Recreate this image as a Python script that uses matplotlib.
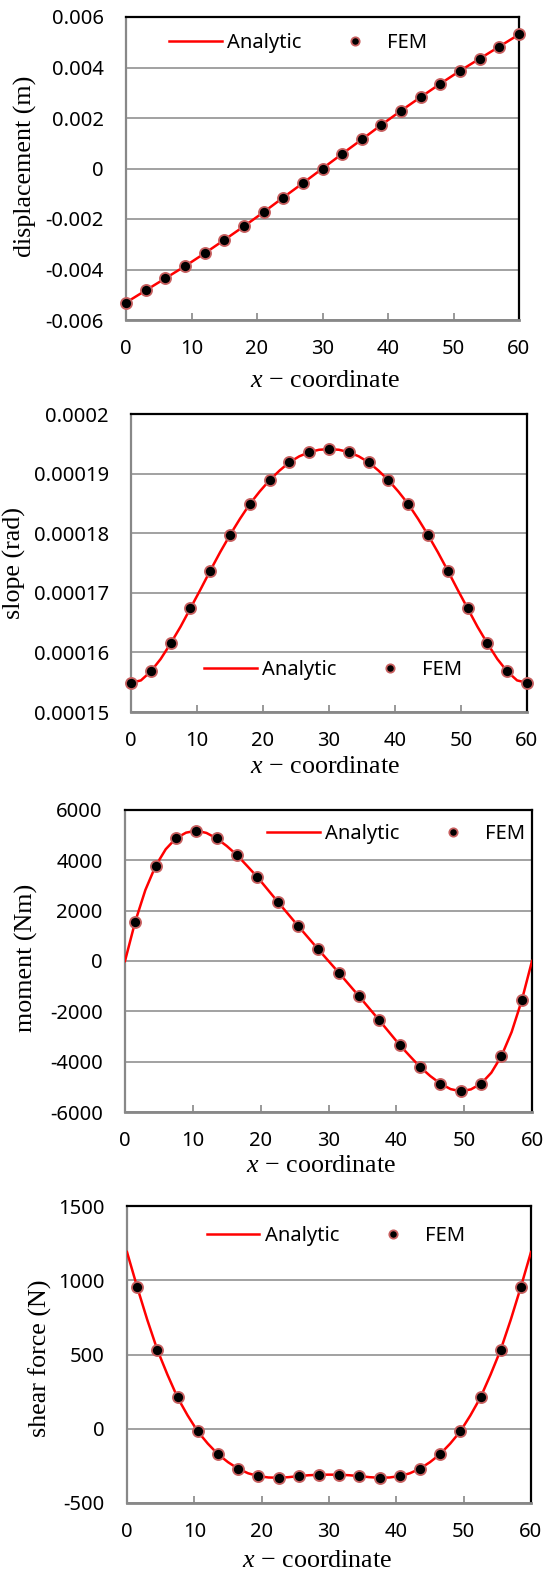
import numpy as np
import matplotlib
matplotlib.use("Agg")
import matplotlib.pyplot as plt

plt.rcParams['mathtext.fontset'] = 'custom'
plt.rcParams['mathtext.it'] = 'Liberation Serif:italic'
plt.rcParams['mathtext.rm'] = 'Liberation Serif'

# --- data ---
x_node = np.arange(0, 61, 3)          # FEM nodes (displacement, slope)
x_mid = np.arange(1.5, 60, 3)         # element midpoints (moment, shear)
x_fine = np.arange(0, 60.1, 1.5)      # analytic curve samples

disp_fem = [-0.00531, -0.00483, -0.00435, -0.00387, -0.00336, -0.00283, -0.00229,
            -0.00173, -0.00115, -0.00058, 0.0, 0.00058, 0.00115, 0.00173, 0.00229,
            0.00283, 0.00336, 0.00387, 0.00435, 0.00483, 0.00531]
disp_line = disp_fem

slope_fem = [1.549e-4, 1.568e-4, 1.615e-4, 1.674e-4, 1.737e-4, 1.797e-4, 1.849e-4,
             1.889e-4, 1.919e-4, 1.936e-4, 1.941e-4, 1.936e-4, 1.919e-4, 1.889e-4,
             1.849e-4, 1.797e-4, 1.737e-4, 1.674e-4, 1.615e-4, 1.568e-4, 1.549e-4]
slope_line = [1.549e-4, 1.553e-4, 1.568e-4, 1.589e-4, 1.615e-4, 1.643e-4, 1.674e-4,
              1.705e-4, 1.737e-4, 1.768e-4, 1.797e-4, 1.824e-4, 1.849e-4, 1.870e-4,
              1.889e-4, 1.905e-4, 1.919e-4, 1.929e-4, 1.936e-4, 1.940e-4, 1.941e-4,
              1.940e-4, 1.936e-4, 1.929e-4, 1.919e-4, 1.905e-4, 1.889e-4, 1.870e-4,
              1.849e-4, 1.824e-4, 1.797e-4, 1.768e-4, 1.737e-4, 1.705e-4, 1.674e-4,
              1.643e-4, 1.615e-4, 1.589e-4, 1.568e-4, 1.553e-4, 1.549e-4]

moment_fem = [1558, 3772, 4873, 5178, 4873, 4210, 3340, 2360, 1400, 460,
              -460, -1400, -2360, -3340, -4210, -4873, -5178, -4873, -3772, -1558]
moment_line = [0, 1558, 2820, 3772, 4440, 4873, 5100, 5178, 5090, 4873, 4570,
               4210, 3780, 3340, 2850, 2360, 1880, 1400, 930, 460, 0,
               -460, -930, -1400, -1880, -2360, -2850, -3340, -3780, -4210, -4570,
               -4873, -5090, -5178, -5100, -4873, -4440, -3772, -2820, -1558, 0]

shear_fem = [956, 532, 211, -18, -171, -269, -319, -330, -319, -310,
             -310, -319, -330, -319, -269, -171, -18, 211, 532, 956]
shear_line = [1190, 956, 735, 532, 365, 211, 90, -18, -100, -171, -225,
              -269, -300, -319, -328, -330, -326, -319, -313, -310, -309,
              -310, -313, -319, -326, -330, -328, -319, -300, -269, -225,
              -171, -100, -18, 90, 211, 365, 532, 735, 956, 1190]

x_ticks = [0, 10, 20, 30, 40, 50, 60]
disp_ticks = [-0.006, -0.004, -0.002, 0, 0.002, 0.004, 0.006]
disp_labels = ['-0.006', '-0.004', '-0.002', '0', '0.002', '0.004', '0.006']
slope_ticks = [0.00015, 0.00016, 0.00017, 0.00018, 0.00019, 0.0002]
slope_labels = ['0.00015', '0.00016', '0.00017', '0.00018', '0.00019', '0.0002']
moment_ticks = [-6000, -4000, -2000, 0, 2000, 4000, 6000]
moment_labels = ['-6000', '-4000', '-2000', '0', '2000', '4000', '6000']
shear_ticks = [-500, 0, 500, 1000, 1500]
shear_labels = ['-500', '0', '500', '1000', '1500']

W, H = 551, 1574
fig = plt.figure(figsize=(W / 100, H / 100), dpi=100)


def fx(px):
    return px / W


def fy(py):
    return 1 - py / H


GRAY = '#888888'
TICK_FONT = 'Noto Sans'
LABEL_FONT = 'Liberation Serif'
FS = 14.5

panels = [
    # (box l, t, r, b), line x, line y, fem x, fem y, ticks, labels, ylabel, ylabel pos, xlabel pos, legend pos
    ((126, 17, 519, 320), x_node, disp_line, x_node, disp_fem, disp_ticks, disp_labels,
     'displacement (m)', (25.5, 166), (325, 387), (169, 43)),
    ((131, 414, 527, 712), x_fine, slope_line, x_node, slope_fem, slope_ticks, slope_labels,
     'slope (rad)', (14.5, 563), (325, 773), (204, 670)),
    ((125, 810, 532, 1112), x_fine, moment_line, x_mid, moment_fem, moment_ticks, moment_labels,
     'moment (Nm)', (26.5, 958), (321.5, 1172), (267, 834)),
    ((127, 1206, 531, 1503), x_fine, shear_line, x_mid, shear_fem, shear_ticks, shear_labels,
     'shear force (N)', (40.5, 1358), (317, 1567), (206.5, 1236)),
]

for box, lx, ly, mx, my, yt, yl, ylab, ylpos, xlpos, legpos in panels:
    l, t, r, b = box
    ax = fig.add_axes([fx(l), fy(b), (r - l) / W, (b - t) / H])
    ax.plot(lx, ly, color='#ff0000', lw=1.8, label='Analytic', zorder=3)
    ax.plot(mx, my, 'o', ms=8, mfc='black', mec='#c86060', mew=1.3,
            label='FEM', zorder=4, clip_on=False)
    ax.set_xlim(0, 60)
    ax.set_ylim(yt[0], yt[-1])
    ax.set_xticks(x_ticks)
    ax.set_xticklabels([str(v) for v in x_ticks], family=TICK_FONT, fontsize=FS)
    ax.set_yticks(yt)
    ax.set_yticklabels(yl, family=TICK_FONT, fontsize=FS)
    ax.tick_params(axis='x', direction='in', length=5, width=1.2, color=GRAY, pad=14)
    ax.tick_params(axis='y', length=0, pad=16)
    ax.grid(axis='y', color=GRAY, lw=1.1)
    ax.set_axisbelow(True)
    for side in ('top', 'right'):
        ax.spines[side].set_color('black')
        ax.spines[side].set_linewidth(1.6)
    ax.spines['left'].set_color(GRAY)
    ax.spines['left'].set_linewidth(1.6)
    ax.spines['bottom'].set_color(GRAY)
    ax.spines['bottom'].set_linewidth(2.0)

    fig.text(fx(ylpos[0]), fy(ylpos[1]), ylab, rotation=90, ha='center', va='center',
             family=LABEL_FONT, fontsize=18.7)
    fig.text(fx(xlpos[0]), fy(xlpos[1]), '$x$ \u2212 coordinate', ha='center',
             va='baseline', family=LABEL_FONT, fontsize=18.7)

    leg = ax.legend(loc='center left', bbox_to_anchor=(fx(legpos[0]), fy(legpos[1])),
                    bbox_transform=fig.transFigure, ncol=2, frameon=False,
                    borderpad=0, borderaxespad=0, handlelength=2.62,
                    handletextpad=0.28, columnspacing=1.34, markerscale=0.75,
                    prop={'family': TICK_FONT, 'size': FS})

fig.savefig('out.png', dpi=100)
